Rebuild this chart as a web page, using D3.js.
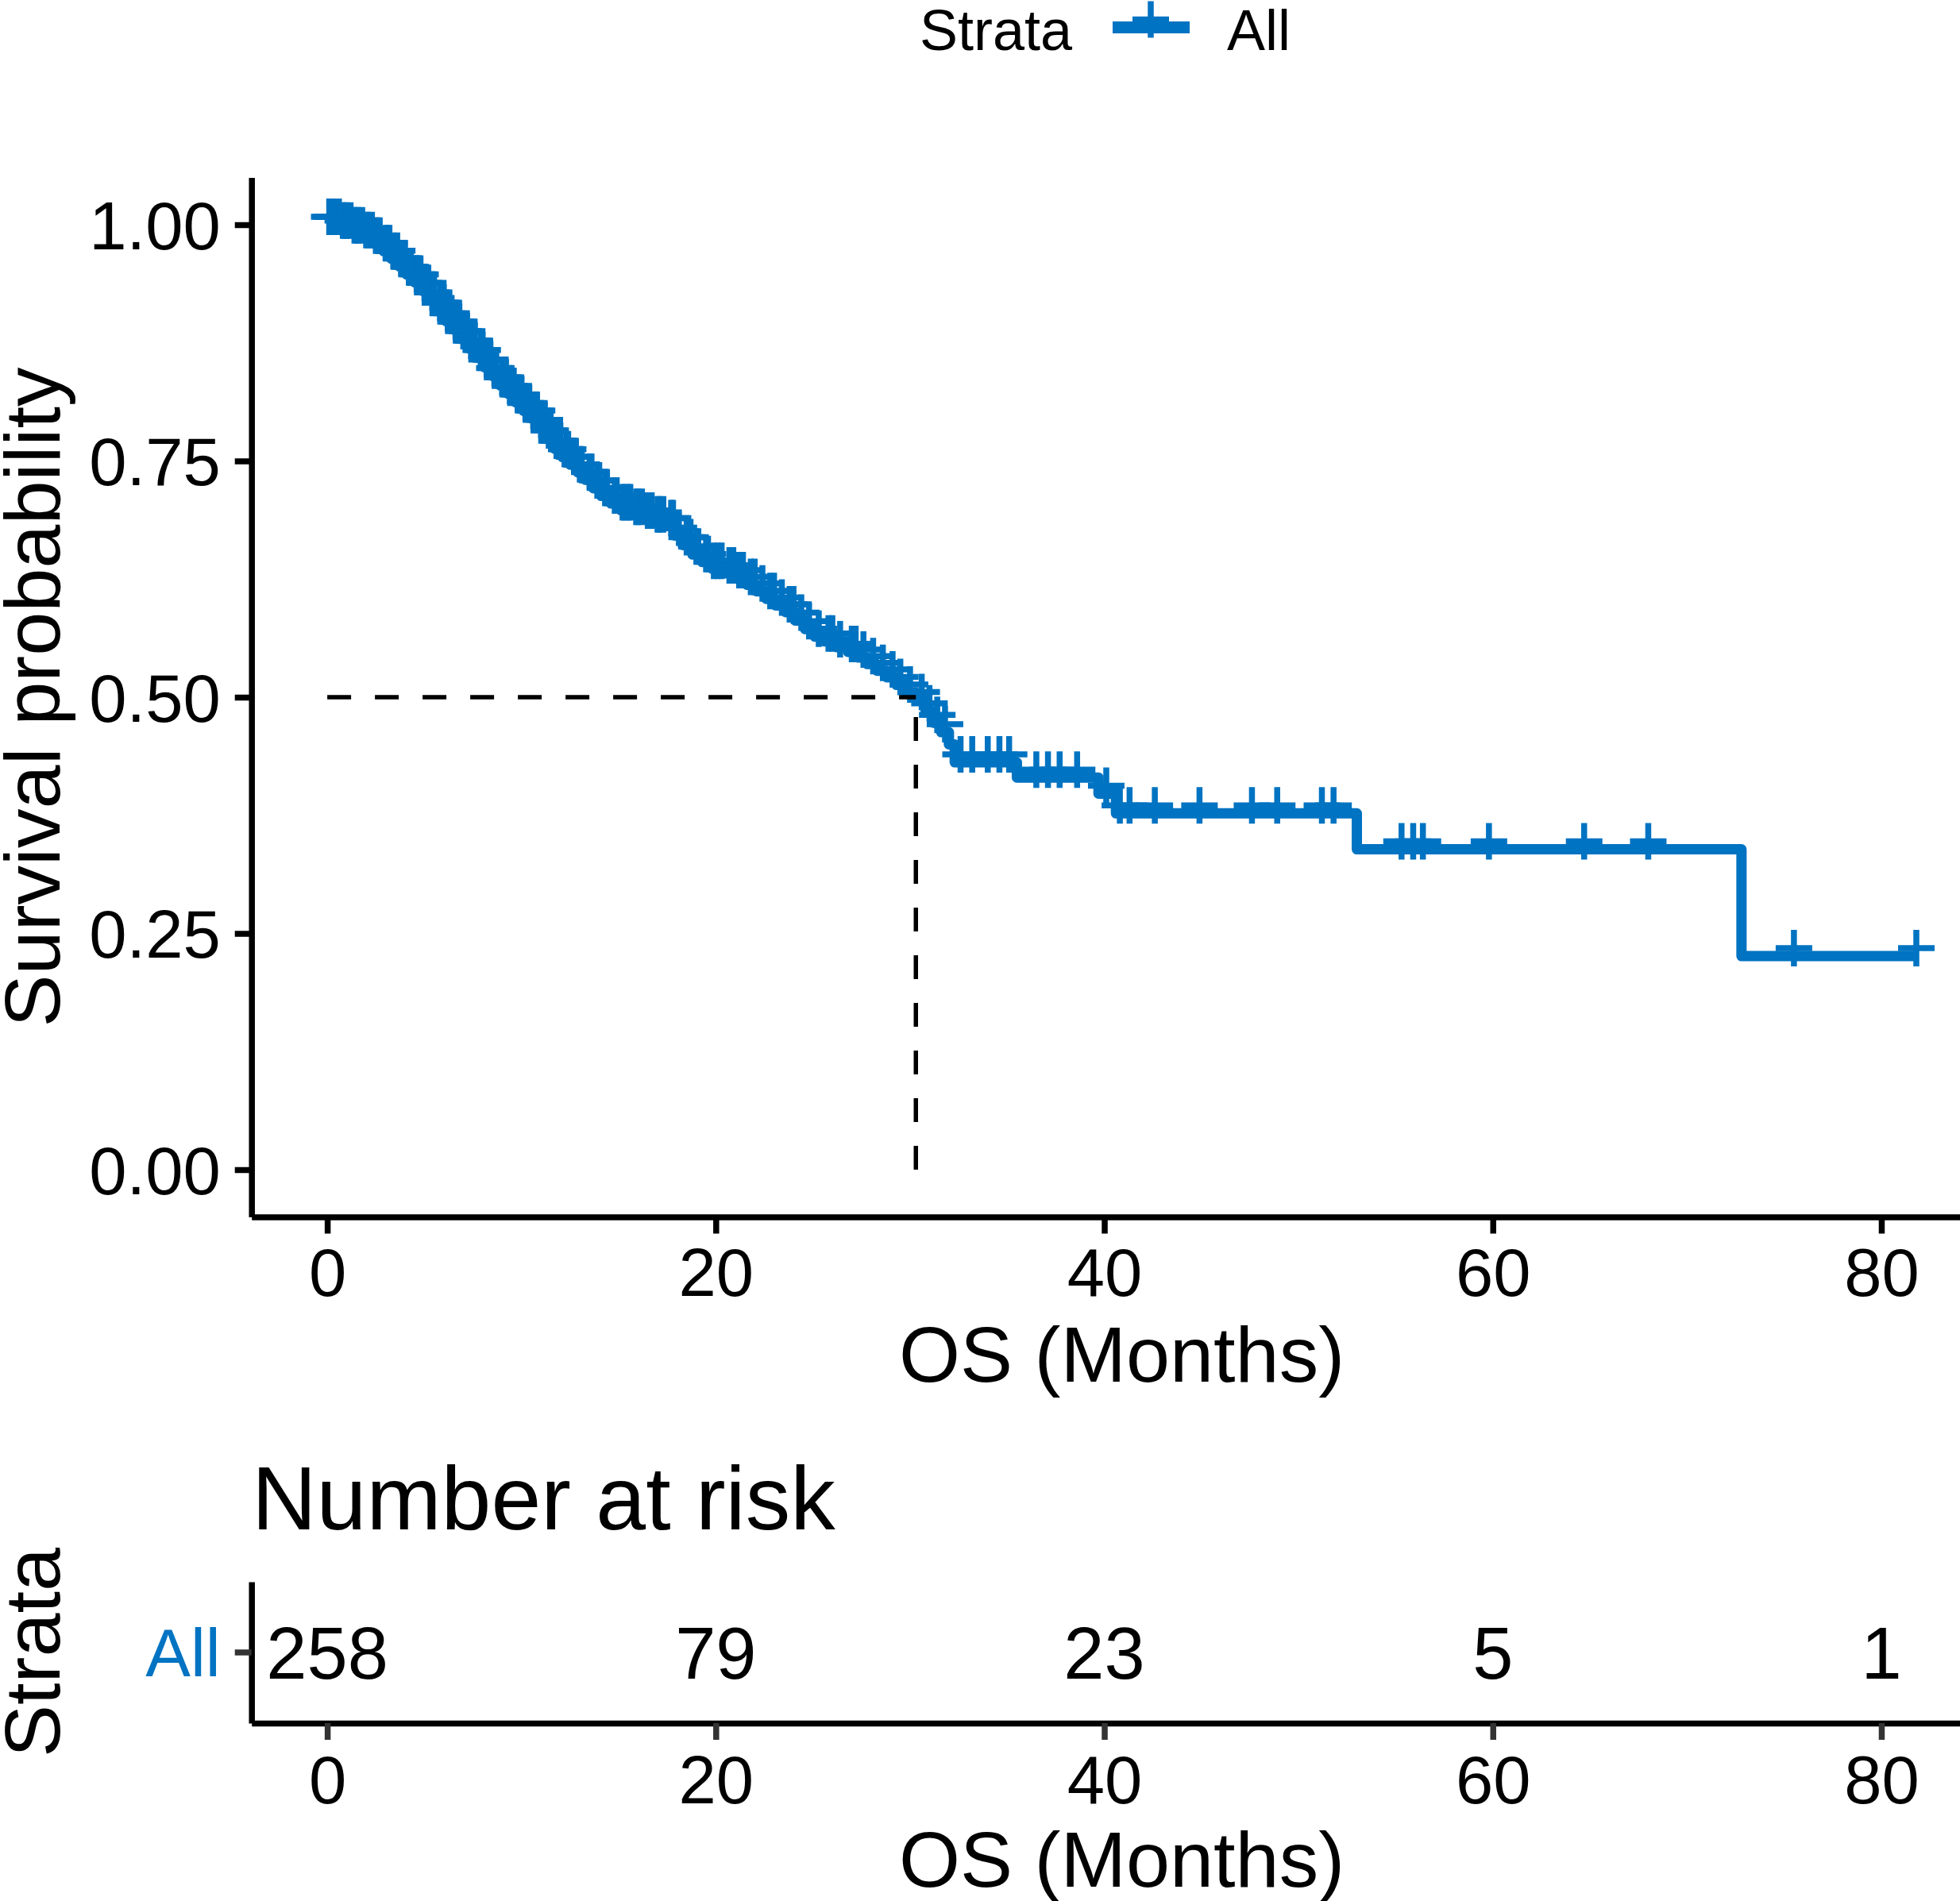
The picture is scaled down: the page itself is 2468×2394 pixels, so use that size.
<!DOCTYPE html>
<html><head><meta charset="utf-8">
<script src="https://cdn.jsdelivr.net/npm/d3@7"></script>
<style>
html,body{margin:0;padding:0;background:#fff;}
svg{display:block;}
text{font-family:"Liberation Sans",Arial,Helvetica,sans-serif;}
</style>
</head><body>
<svg id="chart" width="2468" height="2394"></svg>
<script>
// ---- data ----
const eventTimes = [0.8,1.3,1.9,2.4,2.9,3.3,3.7,4.1,4.5,4.9,5.3,5.7,6.1,6.5,6.9,7.3,7.7,8.1,8.5,8.9,
  9.3,9.7,10.1,10.5,10.9,11.3,11.7,12.1,12.5,12.9,13.3,13.7,14.1,14.6,15.1,15.7,16.3,16.9,17.5,17.9,
  18.3,18.8,19.3,19.8,20.4,21.0,21.6,22.1,22.6,23.1,23.6,24.1,24.6,25.1,25.6,26.2,26.8,27.3,27.8,28.3,
  28.8,29.3,29.8,30.3,30.8,31.2,31.6,32.0,32.3,35.5,39.7,40.6,53.0,72.8];
const eventSurv = [0.996,0.991,0.986,0.980,0.972,0.964,0.956,0.947,0.939,0.930,0.920,0.909,0.898,0.889,0.879,0.869,0.859,0.849,0.840,0.830,
  0.821,0.812,0.803,0.795,0.785,0.774,0.763,0.754,0.746,0.738,0.730,0.721,0.713,0.705,0.698,0.693,0.689,0.685,0.681,0.671,
  0.661,0.651,0.643,0.636,0.631,0.626,0.619,0.612,0.604,0.597,0.590,0.581,0.572,0.564,0.559,0.553,0.548,0.542,0.535,0.528,
  0.521,0.513,0.505,0.497,0.485,0.473,0.463,0.450,0.431,0.415,0.398,0.377,0.339,0.226];
const censorTimes = [0.1,0.2,0.3,0.5,0.6,0.8,0.9,1.0,1.2,1.4,1.5,1.6,1.8,2.0,2.1,2.3,2.5,2.6,2.7,3.0,3.1,3.2,3.4,3.6,3.8,3.9,4.0,4.2,4.3,4.6,4.7,4.8,
  5.0,5.2,5.4,5.5,5.8,5.9,6.0,6.2,6.4,6.6,6.7,6.8,7.0,7.2,7.4,7.5,7.6,7.9,8.0,8.2,8.4,8.6,8.7,9.0,9.1,9.2,9.4,9.6,9.8,9.9,
  10.0,10.2,10.4,10.6,10.7,10.8,11.0,11.2,11.4,11.5,11.8,11.9,12.0,12.3,12.4,12.7,12.8,13.0,13.1,13.5,13.6,13.9,14.0,14.3,14.4,14.8,14.9,
  15.2,15.3,15.5,15.6,15.9,16.0,16.2,16.5,16.6,16.7,17.0,17.1,17.3,17.7,17.8,18.1,18.5,18.7,19.0,19.1,19.5,19.6,19.9,
  20.1,20.3,20.7,20.9,21.2,21.4,21.8,22.0,22.4,22.8,23.0,23.4,23.8,24.0,24.4,24.8,25.3,25.8,26.0,26.4,27.0,27.2,27.6,28.1,28.6,29.1,29.5,30.0,
  30.6,31.0,31.4,31.8,32.6,33.2,34.0,34.6,35.1,36.5,37.1,37.7,38.6,40.1,
  40.8,41.3,42.6,44.9,47.6,48.9,51.2,51.8,55.3,55.9,56.4,59.8,64.7,68.0,75.5,81.8];
const lastTime = 81.8;
const medianTime = 30.3;
const xTicks = [0,20,40,60,80];
const yTicks = [0,0.25,0.5,0.75,1];
const yTickLabels = ["0.00","0.25","0.50","0.75","1.00"];
const strata = ["All"];
const riskTimes = [0,20,40,60,80];
const riskCounts = [258,79,23,5,1];

// ---- layout ----
const blue = "#0073C2";
const svg = d3.select("#chart");
const x = d3.scaleLinear().domain([-3.9, 85.7]).range([316.7, 2508.4]);
const y = d3.scaleLinear().domain([-0.05, 1.05]).range([1532.5, 223.5]);
const yr = d3.scaleBand().domain(strata).range([2170, 1992]);

function styleAxis(g, tickColor) {
  g.select(".domain").attr("stroke", "#000").attr("stroke-width", 7.5);
  g.selectAll(".tick line").attr("stroke", tickColor).attr("stroke-width", 7.5);
  g.selectAll(".tick text").attr("fill", "#000").attr("font-size", 85)
    .attr("font-family", "Liberation Sans, Arial, sans-serif");
}

// legend
svg.append("text").attr("x", 1158).attr("y", 63).attr("font-size", 72).text("Strata");
svg.append("line").attr("x1", 1401).attr("x2", 1498).attr("y1", 34.5).attr("y2", 34.5)
  .attr("stroke", blue).attr("stroke-width", 15);
svg.append("path").attr("d", "M1426,24.5H1472M1449,1.5V47.5").attr("stroke", blue).attr("stroke-width", 7.5).attr("fill", "none");
svg.append("text").attr("x", 1545).attr("y", 63).attr("font-size", 72).text("All");

// main axes
const gy = svg.append("g").attr("transform", "translate(316.7,0)")
  .call(d3.axisLeft(y).tickValues(yTicks).tickFormat((d, i) => yTickLabels[i]).tickSize(21).tickSizeOuter(0));
styleAxis(gy, "#000");
gy.selectAll(".tick text").attr("x", -39).attr("dy", "0.355em");

const gx = svg.append("g").attr("transform", "translate(0,1532.5)")
  .call(d3.axisBottom(x).tickValues(xTicks).tickFormat(d3.format("d")).tickSize(21).tickSizeOuter(0));
styleAxis(gx, "#000");
gx.selectAll(".tick text").attr("y", 99).attr("dy", 0);

svg.append("text").attr("x", (316.7 + 2508.4) / 2).attr("y", 1740).attr("text-anchor", "middle")
  .attr("font-size", 99).text("OS (Months)");
svg.append("text").attr("transform", "translate(75," + (y(0.5)) + ") rotate(-90)")
  .attr("text-anchor", "middle").attr("font-size", 99).text("Survival probability");

// KM curve
const pts = [[0, 1]].concat(eventTimes.map((t, i) => [t, eventSurv[i]]), [[lastTime, eventSurv[eventSurv.length - 1]]]);
const line = d3.line().x(d => x(d[0])).y(d => y(d[1])).curve(d3.curveStepAfter);
svg.append("path").attr("d", line(pts)).attr("fill", "none").attr("stroke", blue)
  .attr("stroke-width", 13).attr("stroke-linejoin", "round").attr("stroke-linecap", "butt");

function survAt(t) {
  const i = d3.bisectRight(eventTimes, t);
  return i === 0 ? 1 : eventSurv[i - 1];
}
svg.append("g").selectAll("path").data(censorTimes).join("path")
  .attr("d", t => {
    const cx = x(t), cy = y(survAt(t)) - 10;
    return `M${cx - 23},${cy}H${cx + 23}M${cx},${cy - 23}V${cy + 23}`;
  })
  .attr("stroke", blue).attr("stroke-width", 7.5).attr("fill", "none");

// median lines
svg.append("line").attr("x1", x(0)).attr("x2", x(medianTime)).attr("y1", y(0.5)).attr("y2", y(0.5))
  .attr("stroke", "#000").attr("stroke-width", 5.5).attr("stroke-dasharray", "30 30");
svg.append("line").attr("x1", x(medianTime)).attr("x2", x(medianTime)).attr("y1", y(0)).attr("y2", y(0.5))
  .attr("stroke", "#000").attr("stroke-width", 5.5).attr("stroke-dasharray", "30 30");

// risk table
svg.append("text").attr("x", 317).attr("y", 1926).attr("font-size", 113).text("Number at risk");
const gry = svg.append("g").attr("transform", "translate(316.7,0)")
  .call(d3.axisLeft(yr).tickSize(21).tickSizeOuter(0));
styleAxis(gry, "#333");
gry.selectAll(".tick text").attr("x", -39).attr("dy", "0.355em").attr("fill", blue);

const grx = svg.append("g").attr("transform", "translate(0,2170)")
  .call(d3.axisBottom(x).tickValues(xTicks).tickFormat(d3.format("d")).tickSize(21).tickSizeOuter(0));
styleAxis(grx, "#333");
grx.selectAll(".tick text").attr("y", 101).attr("dy", 0);

svg.append("g").selectAll("text").data(riskTimes).join("text")
  .attr("x", d => x(d)).attr("y", yr("All") + yr.bandwidth() / 2).attr("dy", "0.36em")
  .attr("text-anchor", "middle").attr("font-size", 92).text((d, i) => riskCounts[i]);

svg.append("text").attr("transform", "translate(75," + (yr("All") + yr.bandwidth() / 2) + ") rotate(-90)")
  .attr("text-anchor", "middle").attr("font-size", 99).text("Strata");
svg.append("text").attr("x", (316.7 + 2508.4) / 2).attr("y", 2376).attr("text-anchor", "middle")
  .attr("font-size", 99).text("OS (Months)");
</script>
</body></html>
